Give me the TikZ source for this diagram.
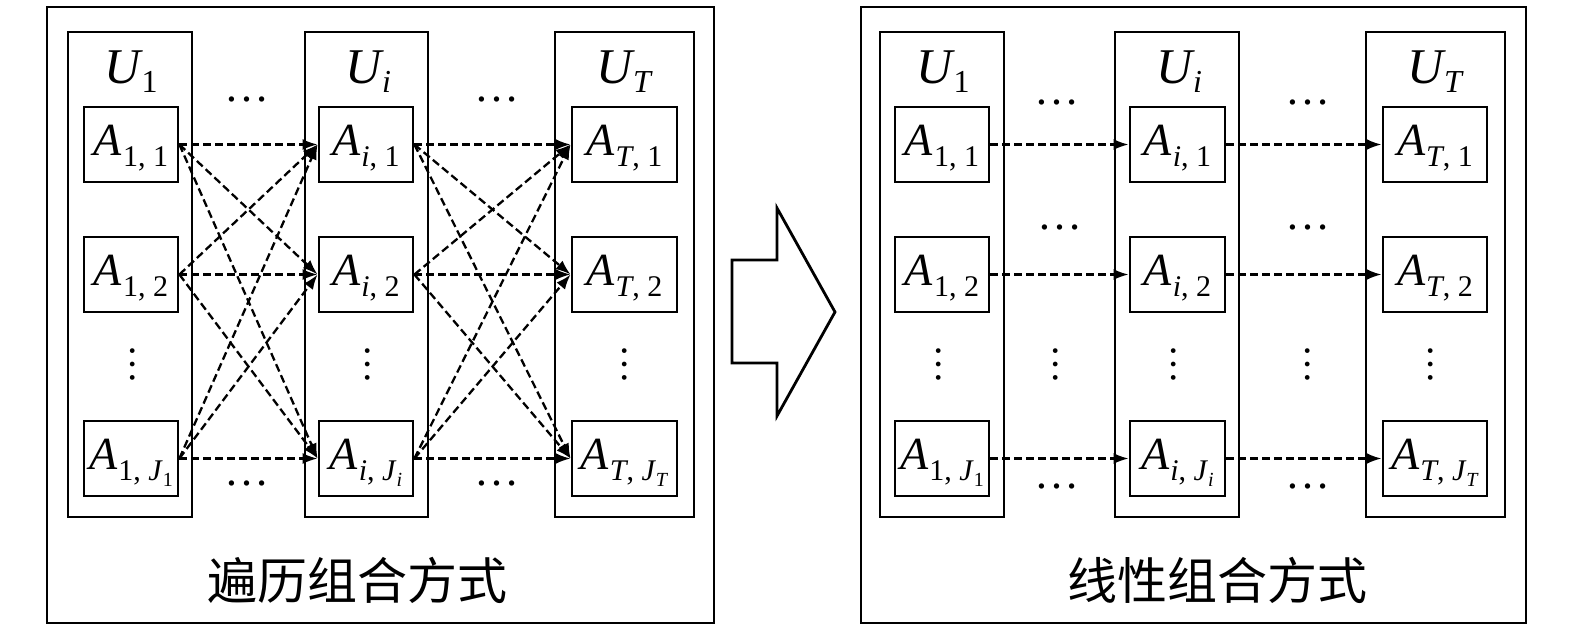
\documentclass[tikz,border=0pt]{standalone}
\usepackage{fontspec}
\setmainfont{Liberation Serif}
\newfontfamily\cjk{Noto Sans CJK SC}
\usetikzlibrary{arrows.meta}
\newcommand{\myA}[1]{{\fontsize{46}{46}\selectfont\itshape A}\kern1pt\raisebox{-11pt}{\fontsize{30}{30}\selectfont #1}}
\newcommand{\myJ}[1]{\textit{J}\raisebox{-6pt}{\fontsize{20}{20}\selectfont #1}}
\newcommand{\myU}[1]{{\fontsize{50}{50}\selectfont\itshape U}\kern1pt\raisebox{-9pt}{\fontsize{32}{32}\selectfont #1}}
\tikzset{
  frame/.style={draw, line width=2.8pt, inner sep=0pt},
  col/.style={draw, line width=2.8pt, inner sep=0pt, minimum height=485pt},
  abox/.style={draw, line width=2.8pt, inner sep=0pt, minimum height=75pt, text height=31pt, text depth=10pt},
  ulab/.style={anchor=base, inner sep=0pt},
  hdots/.style={inner sep=0pt, font=\fontsize{45}{45}\selectfont},
  vdots/.style={inner sep=0pt, rotate=90, font=\fontsize{40}{40}\selectfont},
  link/.style={line width=2.3pt, dash pattern=on 8pt off 4pt, -{Latex[length=15pt,width=11pt]}},
  captext/.style={inner sep=0pt, font=\cjk\fontsize{50}{50}\selectfont},
}
\begin{document}
\begin{tikzpicture}[x=1pt,y=-1pt]
\useasboundingbox (0,0) rectangle (1575,630);
% ---------- left panel ----------
\node[frame, minimum width=667pt, minimum height=616pt] (fL) at (380.5,315) {};
\node[col, minimum width=124pt] (cL1) at (130,274.5) {};
\node[col, minimum width=123pt] (cLi) at (366.5,274.5) {};
\node[col, minimum width=139pt] (cLT) at (624.5,274.5) {};
\node[ulab] (uL1) at (131,83) {\myU{1}};
\node[ulab] (uLi) at (368,83) {\myU{\textit{i}}};
\node[ulab] (uLT) at (624.5,83) {\myU{\textit{T}}};
\node[abox, minimum width=94pt] (L11) at (131,144.5) {\myA{1, 1}};
\node[abox, minimum width=94pt] (L12) at (131,274.5) {\myA{1, 2}};
\node[abox, minimum width=94pt] (L1J) at (131,458.5) {\myA{1, \myJ{1}}};
\node[abox, minimum width=94pt] (Li1) at (366,144.5) {\myA{\textit{i}, 1}};
\node[abox, minimum width=94pt] (Li2) at (366,274.5) {\myA{\textit{i}, 2}};
\node[abox, minimum width=94pt] (LiJ) at (366,458.5) {\myA{\textit{i}, \myJ{\textit{i}}}};
\node[abox, minimum width=105pt] (LT1) at (624.5,144.5) {\myA{\textit{T}, 1}};
\node[abox, minimum width=105pt] (LT2) at (624.5,274.5) {\myA{\textit{T}, 2}};
\node[abox, minimum width=105pt] (LTJ) at (624.5,458.5) {\myA{\textit{T}, \myJ{\textit{T}}}};
\node[hdots] (dL1) at (247,99) {…};
\node[hdots] (dL2) at (497,99) {…};
\node[hdots] (dL3) at (247,483) {…};
\node[hdots] (dL4) at (497,483) {…};
\node[vdots] (vL1) at (133,364) {…};
\node[vdots] (vL2) at (368,364) {…};
\node[vdots] (vL3) at (625,364) {…};
\foreach \s in {L11,L12,L1J}{
  \foreach \t in {Li1,Li2,LiJ}{
    \draw[link] (\s.east) -- (\t.west);
  }
}
\foreach \s in {Li1,Li2,LiJ}{
  \foreach \t in {LT1,LT2,LTJ}{
    \draw[link] (\s.east) -- (\t.west);
  }
}
\node[captext] (capL) at (357,580) {遍历组合方式};
% ---------- big arrow ----------
\draw[line width=2.8pt, line join=miter] (732,260) -- (777,260) -- (777,208) -- (835,312) -- (777,416) -- (777,363) -- (732,363) -- cycle;
% ---------- right panel ----------
\node[frame, minimum width=665pt, minimum height=616pt] (fR) at (1193.5,315) {};
\node[col, minimum width=124pt] (cR1) at (942,274.5) {};
\node[col, minimum width=124pt] (cRi) at (1177,274.5) {};
\node[col, minimum width=139pt] (cRT) at (1435.5,274.5) {};
\node[ulab] (uR1) at (943,83) {\myU{1}};
\node[ulab] (uRi) at (1179,83) {\myU{\textit{i}}};
\node[ulab] (uRT) at (1435.5,83) {\myU{\textit{T}}};
\node[abox, minimum width=94pt] (R11) at (942,144.5) {\myA{1, 1}};
\node[abox, minimum width=94pt] (R12) at (942,274.5) {\myA{1, 2}};
\node[abox, minimum width=94pt] (R1J) at (942,458.5) {\myA{1, \myJ{1}}};
\node[abox, minimum width=95pt] (Ri1) at (1177.5,144.5) {\myA{\textit{i}, 1}};
\node[abox, minimum width=95pt] (Ri2) at (1177.5,274.5) {\myA{\textit{i}, 2}};
\node[abox, minimum width=95pt] (RiJ) at (1177.5,458.5) {\myA{\textit{i}, \myJ{\textit{i}}}};
\node[abox, minimum width=104pt] (RT1) at (1435,144.5) {\myA{\textit{T}, 1}};
\node[abox, minimum width=104pt] (RT2) at (1435,274.5) {\myA{\textit{T}, 2}};
\node[abox, minimum width=104pt] (RTJ) at (1435,458.5) {\myA{\textit{T}, \myJ{\textit{T}}}};
\node[hdots] (dR1) at (1057,102) {…};
\node[hdots] (dR2) at (1308,102) {…};
\node[hdots] (dR3) at (1060,227) {…};
\node[hdots] (dR4) at (1308,227) {…};
\node[hdots] (dR5) at (1057,486) {…};
\node[hdots] (dR6) at (1308,486) {…};
\node[vdots] (vR1) at (939,364) {…};
\node[vdots] (vR2) at (1056,364) {…};
\node[vdots] (vR3) at (1174,364) {…};
\node[vdots] (vR4) at (1308,364) {…};
\node[vdots] (vR5) at (1431,364) {…};
\draw[link] (R11.east) -- (Ri1.west);
\draw[link] (R12.east) -- (Ri2.west);
\draw[link] (R1J.east) -- (RiJ.west);
\draw[link] (Ri1.east) -- (RT1.west);
\draw[link] (Ri2.east) -- (RT2.west);
\draw[link] (RiJ.east) -- (RTJ.west);
\node[captext] (capR) at (1217,580) {线性组合方式};
\end{tikzpicture}
\end{document}
